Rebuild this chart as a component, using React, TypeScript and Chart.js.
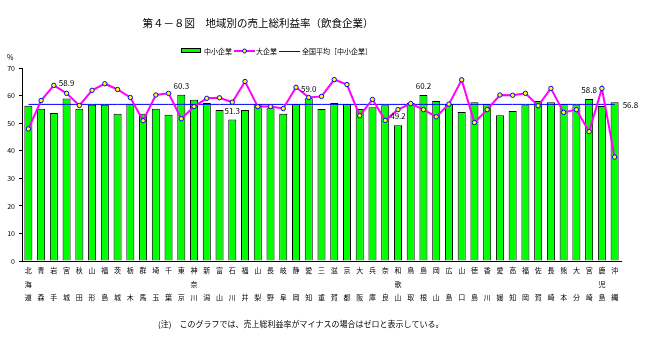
import React, { useEffect, useRef } from "react";
import { Chart, registerables } from "chart.js";

Chart.register(...registerables);

const FONT = '"Noto Sans CJK JP", "Noto Sans", sans-serif';

const chartTitle = "第４－８図　地域別の売上総利益率（飲食企業）";
const footnote = "(注)　このグラフでは、売上総利益率がマイナスの場合はゼロと表示している。";
const legendSme = "中小企業";
const legendLarge = "大企業";
const legendAvg = "全国平均［中小企業］";
const unitLabel = "%";

// Vertical labels: top char / middle char / bottom char
const categories: string[][] = [
  ["北", "海", "道"], ["青", "", "森"], ["岩", "", "手"], ["宮", "", "城"], ["秋", "", "田"],
  ["山", "", "形"], ["福", "", "島"], ["茨", "", "城"], ["栃", "", "木"], ["群", "", "馬"],
  ["埼", "", "玉"], ["千", "", "葉"], ["東", "", "京"], ["神", "奈", "川"], ["新", "", "潟"],
  ["富", "", "山"], ["石", "", "川"], ["福", "", "井"], ["山", "", "梨"], ["長", "", "野"],
  ["岐", "", "阜"], ["静", "", "岡"], ["愛", "", "知"], ["三", "", "重"], ["滋", "", "賀"],
  ["京", "", "都"], ["大", "", "阪"], ["兵", "", "庫"], ["奈", "", "良"], ["和", "歌", "山"],
  ["鳥", "", "取"], ["島", "", "根"], ["岡", "", "山"], ["広", "", "島"], ["山", "", "口"],
  ["徳", "", "島"], ["香", "", "川"], ["愛", "", "媛"], ["高", "", "知"], ["福", "", "岡"],
  ["佐", "", "賀"], ["長", "", "崎"], ["熊", "", "本"], ["大", "", "分"], ["宮", "", "崎"],
  ["鹿", "児", "島"], ["沖", "", "縄"],
];

const smeMargins: number[] = [
  56.3, 55.2, 53.7, 58.9, 55.2, 56.7, 56.7, 53.4, 57.0, 53.4,
  55.2, 53.0, 60.3, 58.5, 57.3, 54.8, 51.3, 54.8, 56.9, 55.4,
  53.4, 56.9, 59.0, 55.1, 57.3, 56.9, 55.1, 55.8, 56.5, 49.2,
  57.3, 60.2, 58.0, 56.9, 54.0, 57.6, 56.9, 52.9, 54.4, 56.5,
  58.0, 57.6, 56.9, 56.5, 58.8, 56.2, 57.6,
];

const largeMargins: number[] = [
  47.9, 58.2, 63.7, 60.8, 56.4, 61.9, 64.3, 62.2, 59.3, 50.9,
  60.2, 60.8, 51.6, 56.0, 59.0, 59.2, 57.6, 65.1, 56.0, 56.0,
  55.3, 63.0, 59.3, 59.7, 65.8, 64.0, 52.7, 58.6, 51.0, 54.9,
  57.1, 54.9, 52.3, 56.9, 65.7, 50.2, 54.9, 60.2, 60.1, 60.8,
  56.3, 62.6, 53.9, 54.9, 46.9, 62.6, 37.7,
];

const nationalAvg = 56.8;

const yMin = 0;
const yMax = 70;
const yStep = 10;

// indices of bars whose values are annotated
const labelledBars: number[] = [3, 12, 16, 22, 29, 31, 44];

const annotatePlugin = {
  id: "annotate",
  afterDraw(chart: any) {
    const { ctx } = chart;
    const xs = chart.scales.x;
    const ys = chart.scales.y;
    ctx.save();
    ctx.fillStyle = "#000";
    ctx.textBaseline = "middle";

    // title
    ctx.textAlign = "center";
    ctx.font = `10.5px ${FONT}`;
    ctx.fillText(chartTitle, 258, 23);

    // legend
    ctx.font = `7px ${FONT}`;
    ctx.textAlign = "left";
    const ly = 51;
    ctx.fillStyle = "#00ff00";
    ctx.fillRect(181, 48, 20, 5);
    ctx.strokeStyle = "#000";
    ctx.lineWidth = 1;
    ctx.strokeRect(181.5, 48.5, 19, 4);
    ctx.fillStyle = "#000";
    ctx.fillText(legendSme, 204, ly);

    ctx.strokeStyle = "#ff00ff";
    ctx.lineWidth = 2;
    ctx.beginPath();
    ctx.moveTo(234, ly);
    ctx.lineTo(255, ly);
    ctx.stroke();
    ctx.beginPath();
    ctx.arc(244.5, ly, 2, 0, Math.PI * 2);
    ctx.fillStyle = "#ffff00";
    ctx.fill();
    ctx.strokeStyle = "#0000ff";
    ctx.lineWidth = 1;
    ctx.stroke();
    ctx.fillStyle = "#000";
    ctx.fillText(legendLarge, 256, ly);

    ctx.strokeStyle = "#0000ff";
    ctx.lineWidth = 1;
    ctx.beginPath();
    ctx.moveTo(279, ly + 0.5);
    ctx.lineTo(300, ly + 0.5);
    ctx.stroke();
    ctx.fillText(legendAvg, 302, ly);

    // unit
    ctx.fillText(unitLabel, 7, 57);

    // bar value labels
    ctx.textAlign = "center";
    ctx.font = `8px ${FONT}`;
    labelledBars.forEach((i) => {
      const x = xs.getPixelForValue(i);
      const off = i === 3 ? 16 : 9;
      const y = ys.getPixelForValue(smeMargins[i]) - off;
      ctx.fillText(smeMargins[i].toFixed(1), x, y);
    });

    // average label
    ctx.textAlign = "left";
    ctx.fillText(
      nationalAvg.toFixed(1),
      xs.getPixelForValue(categories.length - 1) + 8,
      ys.getPixelForValue(nationalAvg) + 1
    );

    // footnote
    ctx.font = `8px ${FONT}`;
    ctx.fillText(footnote, 158, 324);
    ctx.restore();
  },
};

export default function App() {
  const ref = useRef<HTMLCanvasElement | null>(null);

  useEffect(() => {
    if (!ref.current) return;
    const chart = new Chart(ref.current, {
      type: "bar",
      data: {
        labels: categories,
        datasets: [
          {
            type: "line",
            label: legendLarge,
            data: largeMargins,
            borderColor: "#ff00ff",
            borderWidth: 2,
            pointRadius: 2.2,
            pointBackgroundColor: "#ffff00",
            pointBorderColor: "#0000ff",
            pointBorderWidth: 1,
            tension: 0,
            order: 0,
          } as any,
          {
            type: "line",
            label: legendAvg,
            data: categories.map(() => nationalAvg),
            borderColor: "#0000ff",
            borderWidth: 1,
            pointRadius: 0,
            tension: 0,
            order: 1,
          } as any,
          {
            type: "bar",
            label: legendSme,
            data: smeMargins,
            backgroundColor: "#00ff00",
            borderColor: "#000000",
            borderWidth: 1,
            barPercentage: 0.63,
            categoryPercentage: 1,
            order: 2,
          } as any,
        ],
      },
      options: {
        animation: false,
        responsive: false,
        devicePixelRatio: 1,
        layout: { padding: { left: 0, right: 29, top: 68, bottom: 0 } },
        plugins: {
          legend: { display: false },
          title: { display: false },
          tooltip: { enabled: false },
        },
        scales: {
          x: {
            offset: true,
            grid: { display: false, drawTicks: false },
            border: { display: true, color: "#000", width: 1 },
            ticks: {
              color: "#000",
              autoSkip: false,
              maxRotation: 0,
              minRotation: 0,
              padding: 3,
              font: { size: 7, family: FONT, lineHeight: 1.93 },
            },
            afterFit(s: any) {
              s.height = 82;
            },
          },
          y: {
            min: yMin,
            max: yMax,
            ticks: {
              stepSize: yStep,
              color: "#000",
              padding: 4,
              font: { size: 7, family: FONT },
            },
            grid: {
              drawOnChartArea: false,
              drawTicks: true,
              tickLength: 3,
              color: "#000",
            },
            border: { display: true, color: "#000", width: 1 },
            afterFit(s: any) {
              s.width = 22;
            },
          },
        },
      },
      plugins: [annotatePlugin],
    } as any);
    return () => chart.destroy();
  }, []);

  return (
    <div style={{ position: "absolute", left: 0, top: 0, width: 650, height: 343, background: "#fff" }}>
      <canvas ref={ref} width={650} height={343} style={{ display: "block", width: 650, height: 343 }} />
    </div>
  );
}
